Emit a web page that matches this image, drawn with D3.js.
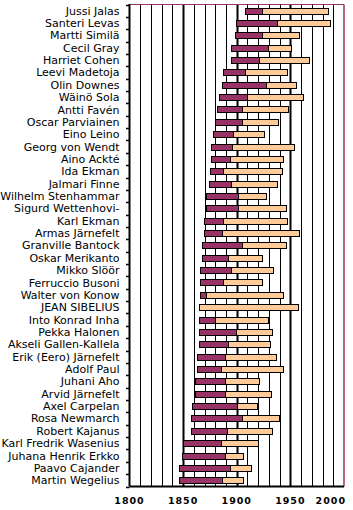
<!DOCTYPE html>
<html>
<head>
<meta charset="utf-8">
<title>Sibelius contemporaries</title>
<script src="https://cdn.jsdelivr.net/npm/d3@7"></script>
<style>
  body { margin: 0; background: #fff; }
  .name { font-family: "DejaVu Sans", Verdana, sans-serif; font-size: 11px; fill: #000; }
  .xlab { font-family: "DejaVu Sans", Verdana, sans-serif; font-size: 9.5px; font-weight: bold; letter-spacing: 1px; fill: #000; }
</style>
</head>
<body>
<script>
// people, top to bottom
var names = ["Jussi Jalas", "Santeri Levas", "Martti Similä", "Cecil Gray", "Harriet Cohen",
  "Leevi Madetoja", "Olin Downes", "Wäinö Sola", "Antti Favén", "Oscar Parviainen",
  "Eino Leino", "Georg von Wendt", "Aino Ackté", "Ida Ekman", "Jalmari Finne",
  "Wilhelm Stenhammar", "Sigurd Wettenhovi-", "Karl Ekman", "Armas Järnefelt", "Granville Bantock",
  "Oskar Merikanto", "Mikko Slöör", "Ferruccio Busoni", "Walter von Konow", "JEAN SIBELIUS",
  "Into Konrad Inha", "Pekka Halonen", "Akseli Gallen-Kallela", "Erik (Eero) Järnefelt", "Adolf Paul",
  "Juhani Aho", "Arvid Järnefelt", "Axel Carpelan", "Rosa Newmarch", "Robert Kajanus",
  "Karl Fredrik Wasenius", "Juhana Henrik Erkko", "Paavo Cajander", "Martin Wegelius"];
var born = [1908, 1899, 1898, 1895, 1895, 1887, 1886, 1883, 1882, 1880,
  1878, 1876, 1876, 1875, 1874, 1871, 1871, 1869, 1869, 1868,
  1868, 1866, 1866, 1866, 1865, 1865, 1865, 1865, 1863, 1863,
  1861, 1861, 1858, 1857, 1857, 1850, 1849, 1846, 1846];
// end of the dark part of each bar (Sibelius has none)
var split = [1923.5, 1937.5, 1923.5, 1929, 1921, 1908, 1927.5, 1910, 1905, 1905,
  1896.5, 1895.5, 1894, 1887.5, 1895, 1901.5, 1901.5, 1887.5, 1886.5, 1905,
  1892, 1895, 1887.5, 1871.5, 1865, 1880, 1899.5, 1892, 1889.5, 1885.5,
  1889.5, 1889.5, 1900.5, 1905, 1890.5, 1885.5, 1889.5, 1893.5, 1886];
var died = [1985.5, 1987.3, 1958, 1950.5, 1967, 1947, 1955.3, 1962, 1948, 1938,
  1925.7, 1953.2, 1943.3, 1942.3, 1937.4, 1927.1, 1946, 1947, 1958, 1946,
  1923.7, 1934, 1923.7, 1943.3, 1957.2, 1929.3, 1933, 1931.2, 1936.7, 1943.3,
  1921, 1932.1, 1919, 1939.5, 1933, 1920, 1906, 1913.5, 1906];
var xTicks = [1800, 1850, 1900, 1950, 2000];

var W = 353, H = 510;
var m = { left: 129.5, right: 344, top: 4.5, bottom: 486.5 };

var svg = d3.select("body").append("svg")
    .attr("width", W)
    .attr("height", H);

var x = d3.scaleLinear().domain([1800, 2000]).range([m.left, m.right]);
var y = d3.scaleBand().domain(names).range([m.top, m.bottom]).paddingInner(0.5).paddingOuter(0.25);

var rows = names.map(function(n, i) {
  return { name: n, born: born[i], split: split[i], died: died[i] };
});

// vertical grid every 10 years, heavier every 50
var grid = d3.range(1810, 2000, 10);
svg.selectAll(".grid").data(grid).enter().append("line")
    .attr("class", "grid")
    .attr("x1", function(d) { return Math.round(x(d)) + 0.5; })
    .attr("x2", function(d) { return Math.round(x(d)) + 0.5; })
    .attr("y1", m.top).attr("y2", m.bottom)
    .attr("stroke", "#000")
    .attr("stroke-width", function(d) { return d % 50 == 0 ? 2 : 1; });

// bars
var g = svg.selectAll(".row").data(rows).enter().append("g").attr("class", "row");

g.append("rect")
    .attr("x", function(d) { return Math.round(x(d.split)) + 0.5; })
    .attr("y", function(d) { return Math.round(y(d.name)) + 0.5; })
    .attr("width", function(d) { return Math.round(x(d.died)) - Math.round(x(d.split)); })
    .attr("height", 6)
    .attr("fill", "#ffcc99")
    .attr("stroke", "#000");

g.filter(function(d) { return d.split > d.born; }).append("rect")
    .attr("x", function(d) { return Math.round(x(d.born)) + 0.5; })
    .attr("y", function(d) { return Math.round(y(d.name)) + 0.5; })
    .attr("width", function(d) { return Math.round(x(d.split)) - Math.round(x(d.born)); })
    .attr("height", 6)
    .attr("fill", "#993366")
    .attr("stroke", "#000");

// frame: maroon top and right, black left and bottom
svg.append("line").attr("x1", m.left).attr("x2", m.right).attr("y1", m.top).attr("y2", m.top)
    .attr("stroke", "#993366");
svg.append("line").attr("x1", m.right).attr("x2", m.right).attr("y1", m.top).attr("y2", m.bottom)
    .attr("stroke", "#993366").attr("stroke-width", 1.5);
svg.append("line").attr("x1", m.left).attr("x2", m.left).attr("y1", m.top - 0.5).attr("y2", m.bottom)
    .attr("stroke", "#000").attr("stroke-width", 2);
svg.append("line").attr("x1", m.left).attr("x2", m.right).attr("y1", m.bottom).attr("y2", m.bottom)
    .attr("stroke", "#000").attr("stroke-width", 2);

// small ticks between the names
var step = y.step();
svg.selectAll(".ytick").data(d3.range(names.length + 1)).enter().append("line")
    .attr("x1", m.left - 3.5).attr("x2", m.left)
    .attr("y1", function(i) { return Math.round(m.top + i * step) + 0.5; })
    .attr("y2", function(i) { return Math.round(m.top + i * step) + 0.5; })
    .attr("stroke", "#000").attr("stroke-width", 1.5);

// names
svg.selectAll(".name").data(names).enter().append("text")
    .attr("class", "name")
    .attr("x", 119.5)
    .attr("y", function(d) { return y(d) + y.bandwidth() / 2; })
    .attr("dy", "0.36em")
    .attr("text-anchor", "end")
    .text(function(d) { return d; });

// year labels, the last one kept inside the picture
svg.selectAll(".xlab").data(xTicks).enter().append("text")
    .attr("class", "xlab")
    .attr("x", function(d, i) { return i == xTicks.length - 1 ? x(d) + 2 : x(d); })
    .attr("y", 504)
    .attr("text-anchor", function(d, i) { return i == xTicks.length - 1 ? "end" : "middle"; })
    .text(function(d) { return d; });
</script>
</body>
</html>
